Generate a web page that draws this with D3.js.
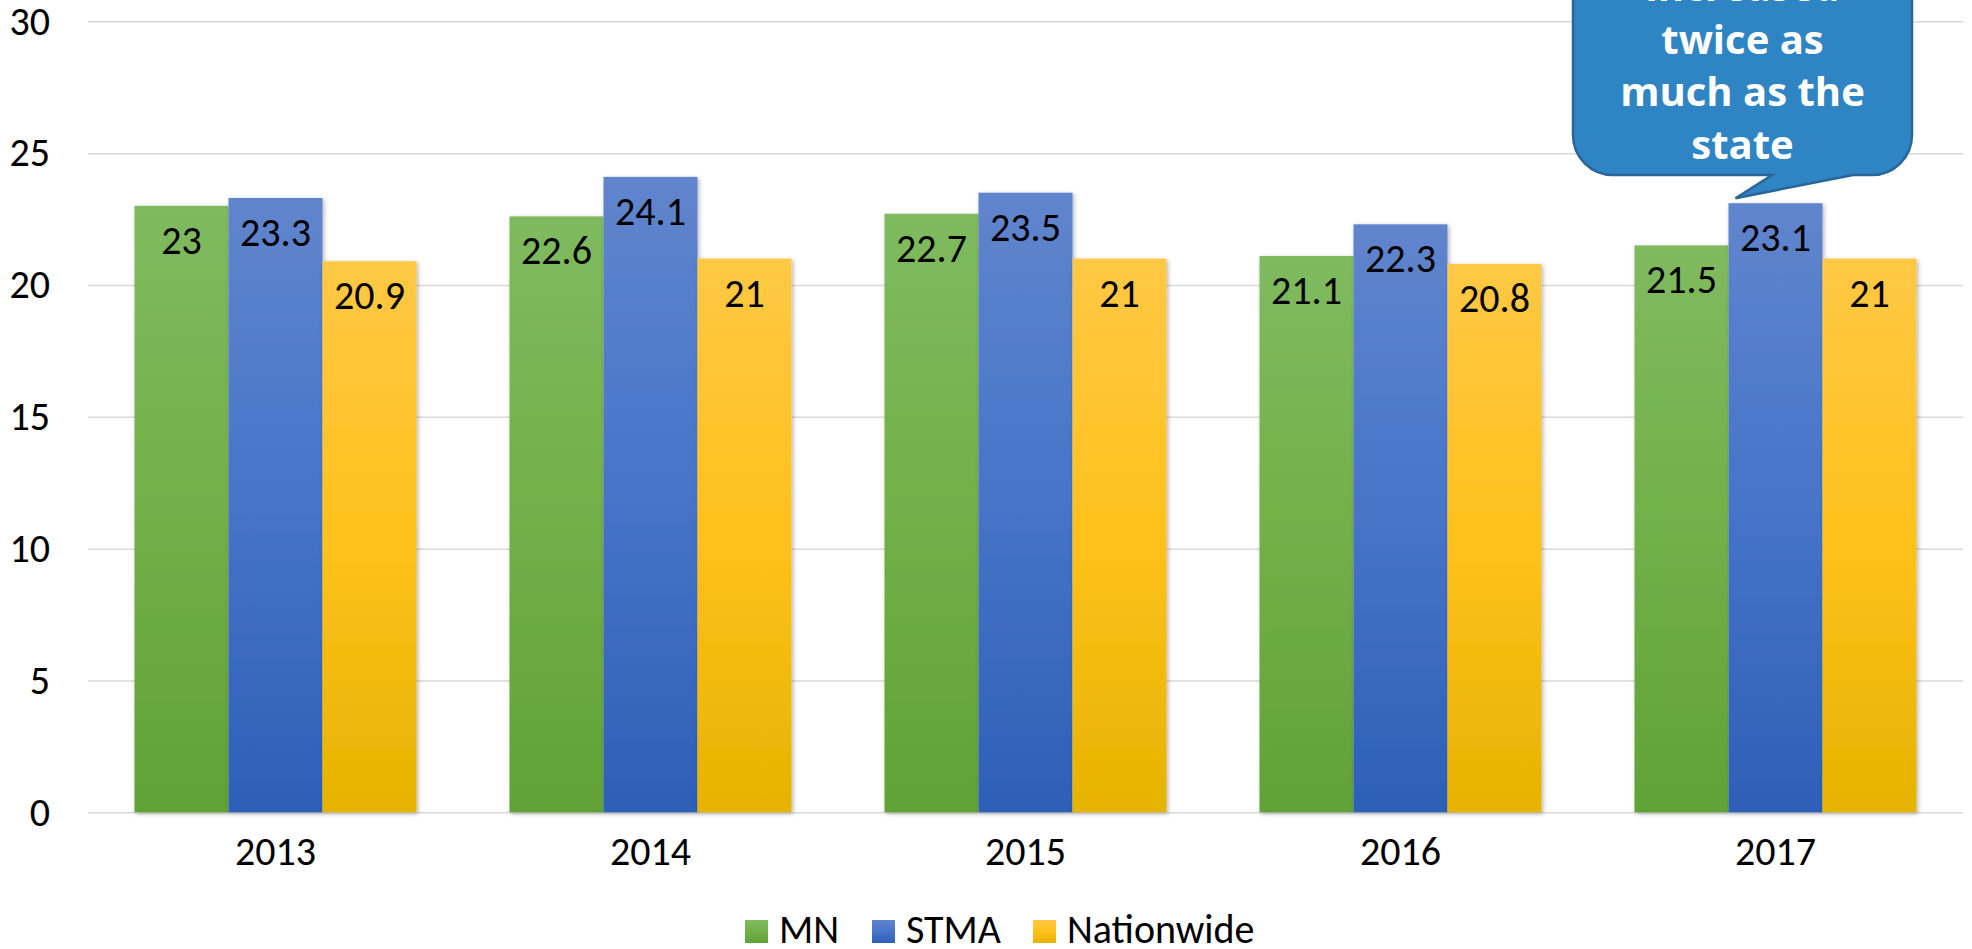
<!DOCTYPE html>
<html>
<head>
<meta charset="utf-8">
<script src="https://cdn.jsdelivr.net/npm/d3@7"></script>
<style>
  html, body { margin: 0; padding: 0; background: #ffffff; }
  svg { display: block; }
  .lbl { font-family: Calibri, Carlito, "Open Sans", sans-serif; fill: #000; }
</style>
</head>
<body>
<svg id="chart" width="1972" height="949"></svg>
<script>
// Chart data
const years = ["2013", "2014", "2015", "2016", "2017"];
const seriesNames = ["MN", "STMA", "Nationwide"];
const mnValues = [23, 22.6, 22.7, 21.1, 21.5];
const stmaValues = [23.3, 24.1, 23.5, 22.3, 23.1];
const nationwideValues = [20.9, 21, 21, 20.8, 21];
const yTicks = [0, 5, 10, 15, 20, 25, 30];
const calloutLines = ["increased", "twice as", "much as the", "state"];

const seriesValues = [mnValues, stmaValues, nationwideValues];

// Gradient stops (top, middle, bottom) per series
const seriesColors = [
  ["#80BA5F", "#72B048", "#60A236"],
  ["#6085CD", "#4674C8", "#2D60B7"],
  ["#FFC845", "#FFC11C", "#E5B300"]
];

const svg = d3.select("#chart");
const plotLeft = 88, plotRight = 1963, plotTop = 21.3, plotBottom = 812.3;
const fontPx = "40px";

const x0 = d3.scaleBand().domain(years).range([plotLeft, plotRight])
  .paddingInner(0.248).paddingOuter(0.124);
const x1 = d3.scaleBand().domain(seriesNames).range([0, x0.bandwidth()]);
const y = d3.scaleLinear().domain([0, 30]).range([plotBottom, plotTop]);

const defs = svg.append("defs");
seriesColors.forEach((c, i) => {
  const g = defs.append("linearGradient")
    .attr("id", "grad" + i)
    .attr("x1", 0).attr("y1", 0).attr("x2", 0).attr("y2", 1);
  g.append("stop").attr("offset", "0%").attr("stop-color", c[0]);
  g.append("stop").attr("offset", "50%").attr("stop-color", c[1]);
  g.append("stop").attr("offset", "100%").attr("stop-color", c[2]);
});
const shadow = defs.append("filter").attr("id", "shadow")
  .attr("x", "-10%").attr("y", "-5%").attr("width", "130%").attr("height", "115%");
shadow.append("feDropShadow").attr("dx", 1.5).attr("dy", 1.5)
  .attr("stdDeviation", 2).attr("flood-color", "#000").attr("flood-opacity", 0.3);

// Gridlines and y-axis labels
const yAxis = d3.axisLeft(y).tickValues(yTicks).tickSize(-(plotRight - plotLeft)).tickPadding(38);
const yg = svg.append("g").attr("transform", `translate(${plotLeft},0)`).call(yAxis);
yg.select(".domain").remove();
yg.selectAll(".tick line").attr("stroke", "#D9D9D9").attr("stroke-width", 1.5);
yg.selectAll(".tick text")
  .attr("class", "lbl")
  .style("font-size", fontPx)
  .attr("fill", "#000");

// X axis labels
const xAxis = d3.axisBottom(x0).tickSize(0).tickPadding(24);
const xg = svg.append("g").attr("transform", `translate(0,${plotBottom})`).call(xAxis);
xg.select(".domain").remove();
xg.selectAll(".tick text")
  .attr("class", "lbl")
  .style("font-size", fontPx)
  .attr("fill", "#000");

// Bars
const groups = svg.append("g").selectAll("g")
  .data(years)
  .join("g")
  .attr("transform", d => `translate(${x0(d)},0)`);

const barData = i => seriesNames.map((s, k) => ({ s, k, v: seriesValues[k][i] }));

groups.each(function (yr, i) {
  const g = d3.select(this);
  const data = barData(i);
  g.selectAll("rect")
    .data(data)
    .join("rect")
    .attr("x", d => x1(d.s))
    .attr("y", d => y(d.v))
    .attr("width", x1.bandwidth())
    .attr("height", d => y(0) - y(d.v))
    .attr("fill", d => `url(#grad${d.k})`)
    .attr("filter", "url(#shadow)");
  g.selectAll("text.val")
    .data(data)
    .join("text")
    .attr("class", "lbl val")
    .attr("x", d => x1(d.s) + x1.bandwidth() / 2)
    .attr("y", d => y(d.v) + 48)
    .attr("text-anchor", "middle")
    .style("font-size", fontPx)
    .text(d => d.v);
});

// Legend
const legendItems = [
  { name: seriesNames[0], k: 0, x: 745 },
  { name: seriesNames[1], k: 1, x: 872 },
  { name: seriesNames[2], k: 2, x: 1033 }
];
const lg = svg.append("g");
legendItems.forEach(it => {
  lg.append("rect").attr("x", it.x).attr("y", 920).attr("width", 23).attr("height", 23)
    .attr("fill", `url(#grad${it.k})`);
  lg.append("text").attr("class", "lbl").attr("x", it.x + 34).attr("y", 942.5)
    .style("font-size", fontPx).text(it.name);
});

// Callout bubble pointing at the 2017 STMA bar
const bx0 = 1573, bx1 = 1912, byTop = -70, byBot = 175, r = 40;
const tipX = x0("2017") + x1("STMA") + 7, tipY = y(stmaValues[4]) - 5;
const p = d3.path();
p.moveTo(bx0 + r, byTop);
p.lineTo(bx1 - r, byTop);
p.arcTo(bx1, byTop, bx1, byTop + r, r);
p.lineTo(bx1, byBot - r);
p.arcTo(bx1, byBot, bx1 - r, byBot, r);
p.lineTo(1853, byBot);
p.lineTo(tipX, tipY);
p.lineTo(1772, byBot);
p.lineTo(bx0 + r, byBot);
p.arcTo(bx0, byBot, bx0, byBot - r, r);
p.lineTo(bx0, byTop + r);
p.arcTo(bx0, byTop, bx0 + r, byTop, r);
p.closePath();
svg.append("path").attr("d", p.toString())
  .attr("fill", "#2F84C4").attr("stroke", "#2A6598").attr("stroke-width", 2.5);

svg.append("g").selectAll("text")
  .data(calloutLines)
  .join("text")
  .attr("x", (bx0 + bx1) / 2)
  .attr("y", (d, i) => 1 + i * 52.7)
  .attr("text-anchor", "middle")
  .style("font-family", "'Open Sans', sans-serif")
  .style("font-weight", 700)
  .style("font-size", "40px")
  .attr("fill", "#ffffff")
  .text(d => d);
</script>
</body>
</html>
